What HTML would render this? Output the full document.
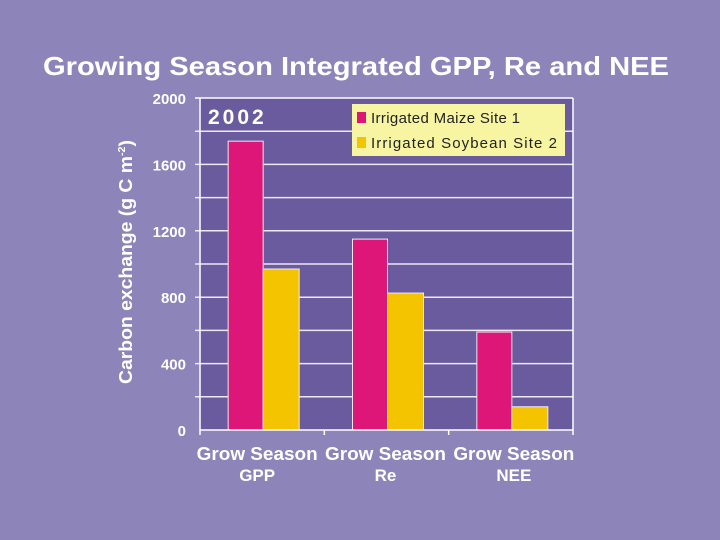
<!DOCTYPE html>
<html><head><meta charset="utf-8"><style>
body{margin:0;background:#8d84ba;}
svg{display:block;font-family:"Liberation Sans",Arial,sans-serif;}
</style></head><body>
<svg id="chart" width="720" height="540">
<rect x="0" y="0" width="720" height="540" fill="#8d84ba"/>
<text x="356" y="75" text-anchor="middle" font-size="26" font-weight="bold" fill="#fff" textLength="626" lengthAdjust="spacingAndGlyphs">Growing Season Integrated GPP, Re and NEE</text>
<rect x="200" y="98" width="373" height="332" fill="#6a5b9f"/>
<g id="grid"></g>
<g id="bars"></g>
<g id="axes"></g>
<text x="208" y="124" font-size="21" font-weight="bold" fill="#fff" letter-spacing="3">2002</text>
<g>
<rect x="352" y="104" width="213" height="52" fill="#f8f5a2"/>
<rect x="357" y="112" width="9" height="11" fill="#dd1677"/>
<text x="371" y="123" font-size="15" fill="#222" textLength="149" lengthAdjust="spacing">Irrigated Maize Site 1</text>
<rect x="357" y="137" width="9" height="11" fill="#f5c400"/>
<text x="371" y="148" font-size="15" fill="#222" textLength="186" lengthAdjust="spacing">Irrigated Soybean Site 2</text>
</g>
<text transform="translate(132,262) rotate(-90)" text-anchor="middle" font-size="18" font-weight="bold" fill="#fff" textLength="244" lengthAdjust="spacingAndGlyphs">Carbon exchange (g C m<tspan font-size="10" dy="-7">-2</tspan><tspan dy="7">)</tspan></text>
</svg>
<script>
const categoriesLine1 = ["Grow Season","Grow Season","Grow Season"];
const categoriesLine2 = ["GPP","Re","NEE"];
const maizeValues = [1740, 1150, 590];
const soybeanValues = [970, 825, 140];
const yTicks = [0, 400, 800, 1200, 1600, 2000];
const yGrid = [200, 400, 600, 800, 1000, 1200, 1400, 1600, 1800];

const NS = "http://www.w3.org/2000/svg";
const x0 = 200, x1 = 573, yTop = 98, yBot = 430, yMax = 2000;
const y = v => yBot - (v / yMax) * (yBot - yTop);
const groupW = (x1 - x0) / categoriesLine1.length;
const xc = i => x0 + groupW * (i + 0.5) + 1;
const barW = 35;
function mk(tag, attrs, parent) {
  const e = document.createElementNS(NS, tag);
  for (const k in attrs) e.setAttribute(k, attrs[k]);
  parent.appendChild(e);
  return e;
}
const grid = document.getElementById('grid');
const bars = document.getElementById('bars');
const axes = document.getElementById('axes');
yGrid.forEach(v => {
  const l = mk('line', {x1: 195, x2: x1, y1: y(v), y2: y(v), stroke: '#ece8f4', 'stroke-width': 1.5}, grid);
  
  
});
categoriesLine1.forEach((c, i) => {
  const bm = mk('rect', {x: xc(i) - barW, y: y(maizeValues[i]), width: barW, height: yBot - y(maizeValues[i]), fill: '#dd1677', stroke: '#f0e8f0', 'stroke-width': 1}, bars);
  
  
  const bs = mk('rect', {x: xc(i), y: y(soybeanValues[i]), width: barW + 1, height: yBot - y(soybeanValues[i]), fill: '#f5c400', stroke: '#f0e8f0', 'stroke-width': 1}, bars);
  
  
  const lx = xc(i) - 6 + i * 4;
  const t1 = mk('text', {x: lx, y: 460, 'text-anchor': 'middle', 'font-size': 18, 'font-weight': 'bold', fill: '#fff', textLength: 121, lengthAdjust: 'spacingAndGlyphs'}, axes);
  t1.textContent = c;
  
  
  const t2 = mk('text', {x: lx, y: 481, 'text-anchor': 'middle', 'font-size': 17, 'font-weight': 'bold', fill: '#fff'}, axes);
  t2.textContent = categoriesLine2[i];
  
  
});
const topL = mk('line', {x1: 195, x2: x1, y1: yTop, y2: yTop, stroke: '#fff', 'stroke-width': 1.5}, axes);


const leftAx = mk('line', {x1: x0, x2: x0, y1: yTop, y2: yBot, stroke: '#fff', 'stroke-width': 1.5}, axes);


const rightB = mk('line', {x1: x1, x2: x1, y1: yTop, y2: yBot, stroke: '#fff', 'stroke-width': 1.5}, axes);


const xAx = mk('line', {x1: x0, x2: x1, y1: yBot, y2: yBot, stroke: '#fff', 'stroke-width': 1.5}, axes);


[0, 1, 2, 3].forEach(k => {
  const tx = x0 + groupW * k;
  const t = mk('line', {x1: tx, x2: tx, y1: yBot, y2: yBot + 5, stroke: '#fff', 'stroke-width': 1.5}, axes);
  
  
});
yTicks.forEach(v => {
  const t = mk('text', {x: 186, y: y(v) + 6, 'text-anchor': 'end', 'font-size': 15, 'font-weight': 'bold', fill: '#fff'}, axes);
  t.textContent = v;
  
  
});
</script>
</body></html>
